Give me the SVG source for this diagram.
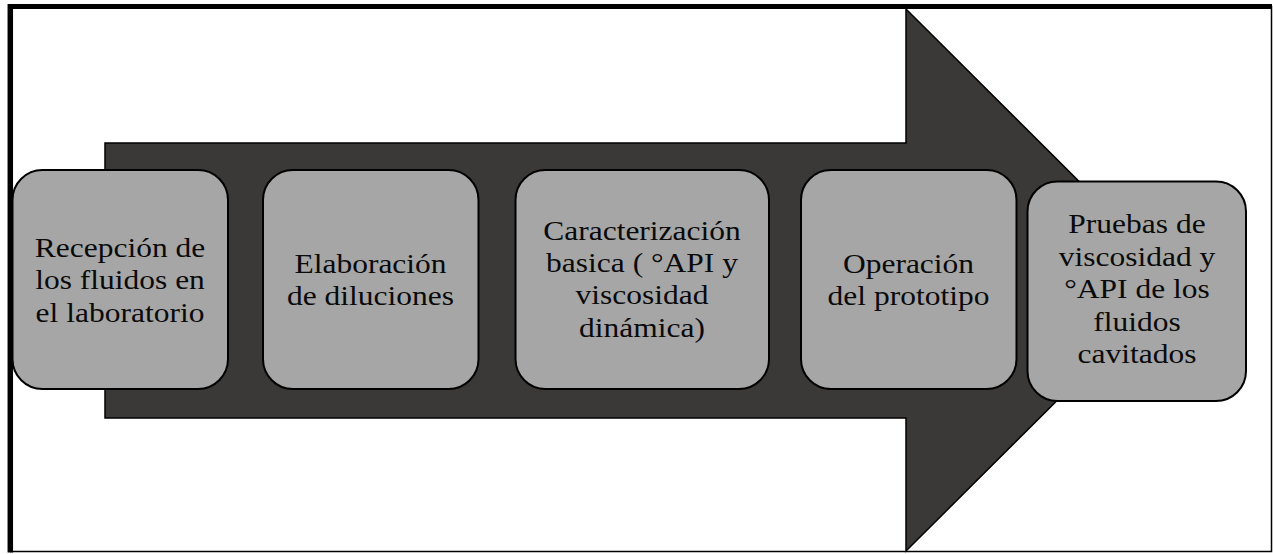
<svg xmlns="http://www.w3.org/2000/svg" width="1273" height="554" viewBox="0 0 1273 554">
<style>
.box{fill:#a6a6a6;stroke:#000;stroke-width:2}
.lbl{font-family:"Liberation Serif","Times New Roman",serif;font-size:28px;fill:#0a0a0a;text-anchor:middle}
</style>
<rect x="0" y="0" width="1273" height="554" fill="#fff"/>
<g id="frame">
<rect x="10.5" y="6.5" width="1261" height="545" fill="none" stroke="#000" stroke-width="1.5"/>
<line x1="10.3" y1="4" x2="10.3" y2="552.5" stroke="#000" stroke-width="5.5"/>
<line x1="8" y1="6.5" x2="1272" y2="6.5" stroke="#000" stroke-width="5"/>
</g>
<g id="connectors">
<polygon points="105,143 906,143 906,9 1178,280 906,551 906,418 105,418" fill="#3a3938" stroke="#000" stroke-width="1.5" stroke-linejoin="miter"/>
</g>
<g id="n1">
<rect class="box" x="12.5" y="170" width="215.5" height="219" rx="30"/>
<g transform="matrix(1.125 0 0 1 120 0)">
<text class="lbl" x="0" y="257">Recepción de</text>
<text class="lbl" x="0" y="289.5">los fluidos en</text>
<text class="lbl" x="0" y="322">el laboratorio</text>
</g>
</g>
<g id="n2">
<rect class="box" x="263" y="170" width="215.5" height="219" rx="30"/>
<g transform="matrix(1.125 0 0 1 370.5 0)">
<text class="lbl" x="0" y="273.5">Elaboración</text>
<text class="lbl" x="0" y="305.5">de diluciones</text>
</g>
</g>
<g id="n3">
<rect class="box" x="515.5" y="170" width="253.5" height="219" rx="30"/>
<g transform="matrix(1.125 0 0 1 642 0)">
<text class="lbl" x="0" y="240">Caracterización</text>
<text class="lbl" x="0" y="272">basica ( °API y</text>
<text class="lbl" x="0" y="304.5">viscosidad</text>
<text class="lbl" x="0" y="337">dinámica)</text>
</g>
</g>
<g id="n4">
<rect class="box" x="801" y="170" width="215.5" height="219" rx="30"/>
<g transform="matrix(1.125 0 0 1 908.5 0)">
<text class="lbl" x="0" y="273.5">Operación</text>
<text class="lbl" x="0" y="305">del prototipo</text>
</g>
</g>
<g id="n5">
<rect class="box" x="1027.5" y="181.5" width="218.5" height="219.5" rx="30"/>
<g transform="matrix(1.125 0 0 1 1137 0)">
<text class="lbl" x="0" y="233.5">Pruebas de</text>
<text class="lbl" x="0" y="266">viscosidad y</text>
<text class="lbl" x="0" y="298.5">°API de los</text>
<text class="lbl" x="0" y="331">fluidos</text>
<text class="lbl" x="0" y="363.5">cavitados</text>
</g>
</g>
</svg>
